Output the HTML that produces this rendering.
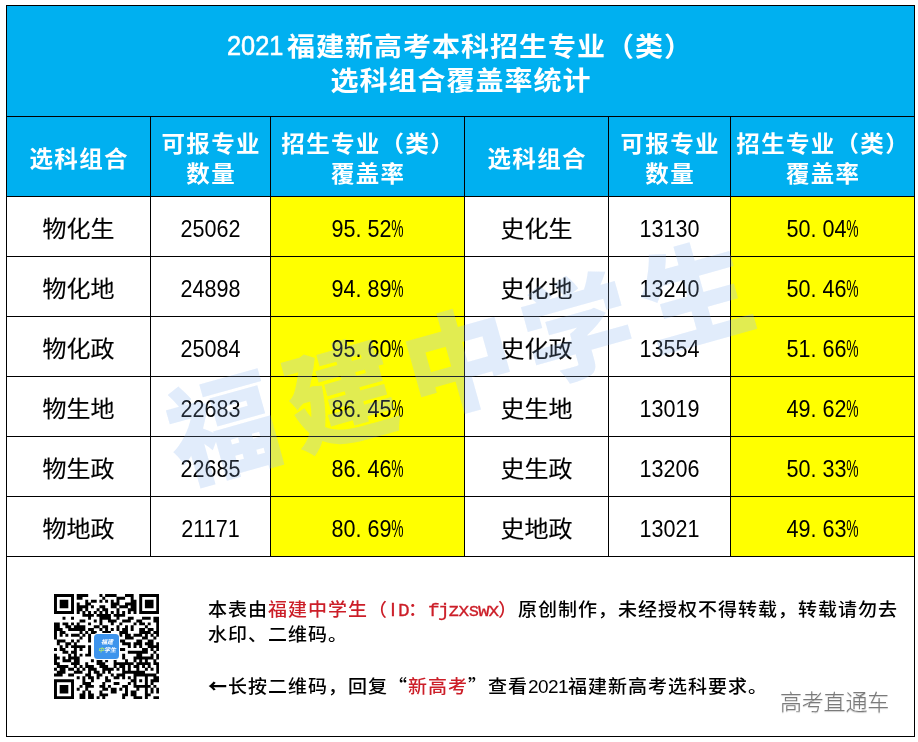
<!DOCTYPE html>
<html lang="zh-CN">
<head>
<meta charset="utf-8">
<title>2021福建新高考本科招生专业（类）选科组合覆盖率统计</title>
<style>
html,body{margin:0;padding:0;background:#fff;}
body{width:918px;height:742px;position:relative;overflow:hidden;
 font-family:"Liberation Sans","Noto Sans CJK SC",sans-serif;color:#000;}
.abs{position:absolute;}
.bg{position:absolute;}
.ln{position:absolute;background:#000;}
.t{position:absolute;white-space:nowrap;text-align:center;}
.h{color:#fff;font-weight:700;}
.title{font-size:28px;line-height:36px;height:36px;letter-spacing:1px;text-indent:1px;transform:scaleY(.95);}
.title .d{display:inline-block;width:60px;margin-left:-2px;text-align:left;letter-spacing:0;text-indent:0;}
.title .d>span{display:inline-block;font-size:29.5px;font-weight:400;-webkit-text-stroke:.6px #fff;transform:scaleX(.86);transform-origin:0 50%;}
.hd{font-size:23.5px;line-height:30px;height:30px;letter-spacing:1.3px;text-indent:1.3px;transform:scaleY(.95);}
.c{font-size:24px;line-height:30px;height:30px;font-weight:400;-webkit-text-stroke:.15px #000;transform:scaleY(.93);}
.n{font-size:23.2px;line-height:30px;height:30px;transform:scaleX(.93);transform-origin:50% 50%;}
.pc{display:inline-block;width:12.9px;text-align:left;}
.pc>span{display:inline-block;transform:scaleX(.64);transform-origin:0 50%;}
.dot{display:inline-block;width:12.9px;text-align:left;}
.lg{width:80px;height:14px;line-height:14px;font-size:12px;font-weight:700;font-style:italic;color:#fff;transform:scale(.5);transform-origin:50% 50%;}
.cj{font-family:"Noto Sans CJK SC",sans-serif;}
.f{font-size:19px;line-height:26px;height:26px;text-align:left;letter-spacing:1px;transform:scaleY(.95);transform-origin:0 50%;font-weight:500;}
.red{color:#cc1e28;}
.lat{letter-spacing:-0.57px;}
.lat2{font-family:"Liberation Mono",monospace;font-size:19.5px;letter-spacing:-1.7px;-webkit-text-stroke:.3px #cc1e28;}
.li{display:inline-block;width:10px;text-align:center;letter-spacing:0;font-size:19.5px;-webkit-text-stroke:.3px #cc1e28;}
.arr{font-family:"Noto Sans CJK SC",sans-serif;font-weight:900;}
.wm{position:absolute;white-space:nowrap;font-weight:900;color:rgba(176,210,243,.17);
 font-size:110px;line-height:120px;height:120px;width:700px;text-align:center;transform-origin:50% 50%;letter-spacing:12.8px;text-indent:12.8px;}
.wm.top{color:rgba(160,196,243,.20);}
.wm2{position:absolute;white-space:nowrap;font-weight:300;color:#7a7a7a;font-size:22px;line-height:26px;letter-spacing:-.2px;
 text-shadow:0 1px 1px rgba(0,0,0,.22);}
</style>
</head>
<body>

<div class="bg" style="left:6px;top:5px;width:909px;height:191px;background:#00b0f0"></div>
<div class="bg" style="left:270px;top:196px;width:194px;height:60px;background:#ffff00"></div>
<div class="bg" style="left:730px;top:196px;width:184px;height:60px;background:#ffff00"></div>
<div class="bg" style="left:270px;top:256px;width:194px;height:60px;background:#ffff00"></div>
<div class="bg" style="left:730px;top:256px;width:184px;height:60px;background:#ffff00"></div>
<div class="bg" style="left:270px;top:316px;width:194px;height:60px;background:#ffff00"></div>
<div class="bg" style="left:730px;top:316px;width:184px;height:60px;background:#ffff00"></div>
<div class="bg" style="left:270px;top:376px;width:194px;height:60px;background:#ffff00"></div>
<div class="bg" style="left:730px;top:376px;width:184px;height:60px;background:#ffff00"></div>
<div class="bg" style="left:270px;top:436px;width:194px;height:60px;background:#ffff00"></div>
<div class="bg" style="left:730px;top:436px;width:184px;height:60px;background:#ffff00"></div>
<div class="bg" style="left:270px;top:496px;width:194px;height:60px;background:#ffff00"></div>
<div class="bg" style="left:730px;top:496px;width:184px;height:60px;background:#ffff00"></div>
<div class="wm" style="left:109.5px;top:305px;transform:rotate(-15.7deg);">福建中学生</div>
<div class="ln" style="left:6px;top:5px;width:909px;height:1px"></div>
<div class="ln" style="left:6px;top:116px;width:909px;height:1px"></div>
<div class="ln" style="left:6px;top:196px;width:909px;height:1px"></div>
<div class="ln" style="left:6px;top:256px;width:909px;height:1px"></div>
<div class="ln" style="left:6px;top:316px;width:909px;height:1px"></div>
<div class="ln" style="left:6px;top:376px;width:909px;height:1px"></div>
<div class="ln" style="left:6px;top:436px;width:909px;height:1px"></div>
<div class="ln" style="left:6px;top:496px;width:909px;height:1px"></div>
<div class="ln" style="left:6px;top:556px;width:909px;height:1px"></div>
<div class="ln" style="left:6px;top:736px;width:909px;height:1px"></div>
<div class="ln" style="left:6px;top:5px;width:1px;height:732px"></div>
<div class="ln" style="left:150px;top:116px;width:1px;height:441px"></div>
<div class="ln" style="left:270px;top:116px;width:1px;height:441px"></div>
<div class="ln" style="left:464px;top:116px;width:1px;height:441px"></div>
<div class="ln" style="left:608px;top:116px;width:1px;height:441px"></div>
<div class="ln" style="left:730px;top:116px;width:1px;height:441px"></div>
<div class="ln" style="left:914px;top:5px;width:1px;height:732px"></div>
<div class="t h title" style="left:6px;width:909px;top:27.5px;"><span class="d"><span>2021</span></span>福建新高考本科招生专业（类）</div>
<div class="t h title" style="left:6px;width:909px;top:63.0px;">选科组合覆盖率统计</div>
<div class="t h hd" style="left:6px;width:145px;top:143.7px;">选科组合</div>
<div class="t h hd" style="left:150px;width:121px;top:129.0px;">可报专业</div>
<div class="t h hd" style="left:150px;width:121px;top:159.0px;">数量</div>
<div class="t h hd" style="left:270px;width:195px;top:129.0px;">招生专业（类）</div>
<div class="t h hd" style="left:270px;width:195px;top:159.0px;">覆盖率</div>
<div class="t h hd" style="left:464px;width:145px;top:143.7px;">选科组合</div>
<div class="t h hd" style="left:608px;width:123px;top:129.0px;">可报专业</div>
<div class="t h hd" style="left:608px;width:123px;top:159.0px;">数量</div>
<div class="t h hd" style="left:730px;width:185px;top:129.0px;">招生专业（类）</div>
<div class="t h hd" style="left:730px;width:185px;top:159.0px;">覆盖率</div>
<div class="t c" style="left:6px;width:145px;top:215.0px;">物化生</div>
<div class="t n" style="left:150px;width:121px;top:213.5px;">25062</div>
<div class="t n" style="left:270px;width:195px;top:213.5px;">95<span class="dot">.</span>52<span class="pc"><span>%</span></span></div>
<div class="t c" style="left:464px;width:145px;top:215.0px;">史化生</div>
<div class="t n" style="left:608px;width:123px;top:213.5px;">13130</div>
<div class="t n" style="left:730px;width:185px;top:213.5px;">50<span class="dot">.</span>04<span class="pc"><span>%</span></span></div>
<div class="t c" style="left:6px;width:145px;top:275.0px;">物化地</div>
<div class="t n" style="left:150px;width:121px;top:273.5px;">24898</div>
<div class="t n" style="left:270px;width:195px;top:273.5px;">94<span class="dot">.</span>89<span class="pc"><span>%</span></span></div>
<div class="t c" style="left:464px;width:145px;top:275.0px;">史化地</div>
<div class="t n" style="left:608px;width:123px;top:273.5px;">13240</div>
<div class="t n" style="left:730px;width:185px;top:273.5px;">50<span class="dot">.</span>46<span class="pc"><span>%</span></span></div>
<div class="t c" style="left:6px;width:145px;top:335.0px;">物化政</div>
<div class="t n" style="left:150px;width:121px;top:333.5px;">25084</div>
<div class="t n" style="left:270px;width:195px;top:333.5px;">95<span class="dot">.</span>60<span class="pc"><span>%</span></span></div>
<div class="t c" style="left:464px;width:145px;top:335.0px;">史化政</div>
<div class="t n" style="left:608px;width:123px;top:333.5px;">13554</div>
<div class="t n" style="left:730px;width:185px;top:333.5px;">51<span class="dot">.</span>66<span class="pc"><span>%</span></span></div>
<div class="t c" style="left:6px;width:145px;top:395.0px;">物生地</div>
<div class="t n" style="left:150px;width:121px;top:393.5px;">22683</div>
<div class="t n" style="left:270px;width:195px;top:393.5px;">86<span class="dot">.</span>45<span class="pc"><span>%</span></span></div>
<div class="t c" style="left:464px;width:145px;top:395.0px;">史生地</div>
<div class="t n" style="left:608px;width:123px;top:393.5px;">13019</div>
<div class="t n" style="left:730px;width:185px;top:393.5px;">49<span class="dot">.</span>62<span class="pc"><span>%</span></span></div>
<div class="t c" style="left:6px;width:145px;top:455.0px;">物生政</div>
<div class="t n" style="left:150px;width:121px;top:453.5px;">22685</div>
<div class="t n" style="left:270px;width:195px;top:453.5px;">86<span class="dot">.</span>46<span class="pc"><span>%</span></span></div>
<div class="t c" style="left:464px;width:145px;top:455.0px;">史生政</div>
<div class="t n" style="left:608px;width:123px;top:453.5px;">13206</div>
<div class="t n" style="left:730px;width:185px;top:453.5px;">50<span class="dot">.</span>33<span class="pc"><span>%</span></span></div>
<div class="t c" style="left:6px;width:145px;top:515.0px;">物地政</div>
<div class="t n" style="left:150px;width:121px;top:513.5px;">21171</div>
<div class="t n" style="left:270px;width:195px;top:513.5px;">80<span class="dot">.</span>69<span class="pc"><span>%</span></span></div>
<div class="t c" style="left:464px;width:145px;top:515.0px;">史地政</div>
<div class="t n" style="left:608px;width:123px;top:513.5px;">13021</div>
<div class="t n" style="left:730px;width:185px;top:513.5px;">49<span class="dot">.</span>63<span class="pc"><span>%</span></span></div>
<div class="t f" style="left:208px;top:595.5px;">本表由<span class="red">福建中学生（<span class="li">I</span><span class="lat2">D</span>：<span class="lat2">fjzxswx</span>）</span>原创制作，未经授权不得转载，转载请勿去</div>
<div class="t f" style="left:208px;top:621.5px;">水印、二维码。</div>
<div class="t f" style="left:208px;top:672.0px;"><span class="arr">←</span>长按二维码，回复<span class="cj">“</span><span class="red">新高考</span><span class="cj">”</span>查看<span class="lat">2021</span>福建新高考选科要求。</div>
<svg class="abs" style="left:53.9px;top:593.9px" width="105.1" height="105.1" viewBox="0 0 37 37"><path d="M0 0h7.04v1.04h-7.04zM8 0h4.04v1.04h-4.04zM16 0h1.04v1.04h-1.04zM18 0h4.04v1.04h-4.04zM25 0h3.04v1.04h-3.04zM30 0h7.04v1.04h-7.04zM0 1h1.04v1.04h-1.04zM6 1h1.04v1.04h-1.04zM8 1h2.04v1.04h-2.04zM17 1h1.04v1.04h-1.04zM22 1h3.04v1.04h-3.04zM27 1h1.04v1.04h-1.04zM30 1h1.04v1.04h-1.04zM36 1h1.04v1.04h-1.04zM0 2h1.04v1.04h-1.04zM2 2h3.04v1.04h-3.04zM6 2h1.04v1.04h-1.04zM11 2h1.04v1.04h-1.04zM13 2h2.04v1.04h-2.04zM16 2h1.04v1.04h-1.04zM18 2h1.04v1.04h-1.04zM20 2h1.04v1.04h-1.04zM22 2h1.04v1.04h-1.04zM27 2h2.04v1.04h-2.04zM30 2h1.04v1.04h-1.04zM32 2h3.04v1.04h-3.04zM36 2h1.04v1.04h-1.04zM0 3h1.04v1.04h-1.04zM2 3h3.04v1.04h-3.04zM6 3h1.04v1.04h-1.04zM8 3h1.04v1.04h-1.04zM11 3h2.04v1.04h-2.04zM20 3h3.04v1.04h-3.04zM25 3h4.04v1.04h-4.04zM30 3h1.04v1.04h-1.04zM32 3h3.04v1.04h-3.04zM36 3h1.04v1.04h-1.04zM0 4h1.04v1.04h-1.04zM2 4h3.04v1.04h-3.04zM6 4h1.04v1.04h-1.04zM8 4h4.04v1.04h-4.04zM13 4h1.04v1.04h-1.04zM16 4h2.04v1.04h-2.04zM20 4h2.04v1.04h-2.04zM23 4h3.04v1.04h-3.04zM27 4h2.04v1.04h-2.04zM30 4h1.04v1.04h-1.04zM32 4h3.04v1.04h-3.04zM36 4h1.04v1.04h-1.04zM0 5h1.04v1.04h-1.04zM6 5h1.04v1.04h-1.04zM8 5h2.04v1.04h-2.04zM11 5h1.04v1.04h-1.04zM15 5h1.04v1.04h-1.04zM17 5h2.04v1.04h-2.04zM22 5h1.04v1.04h-1.04zM26 5h3.04v1.04h-3.04zM30 5h1.04v1.04h-1.04zM36 5h1.04v1.04h-1.04zM0 6h7.04v1.04h-7.04zM8 6h1.04v1.04h-1.04zM10 6h1.04v1.04h-1.04zM12 6h1.04v1.04h-1.04zM14 6h1.04v1.04h-1.04zM16 6h1.04v1.04h-1.04zM18 6h1.04v1.04h-1.04zM20 6h1.04v1.04h-1.04zM22 6h1.04v1.04h-1.04zM24 6h1.04v1.04h-1.04zM26 6h1.04v1.04h-1.04zM28 6h1.04v1.04h-1.04zM30 6h7.04v1.04h-7.04zM10 7h4.04v1.04h-4.04zM15 7h5.04v1.04h-5.04zM21 7h4.04v1.04h-4.04zM3 8h1.04v1.04h-1.04zM6 8h1.04v1.04h-1.04zM12 8h1.04v1.04h-1.04zM16 8h4.04v1.04h-4.04zM22 8h1.04v1.04h-1.04zM26 8h2.04v1.04h-2.04zM31 8h3.04v1.04h-3.04zM35 8h2.04v1.04h-2.04zM9 9h2.04v1.04h-2.04zM14 9h1.04v1.04h-1.04zM16 9h1.04v1.04h-1.04zM19 9h3.04v1.04h-3.04zM24 9h3.04v1.04h-3.04zM29 9h2.04v1.04h-2.04zM35 9h2.04v1.04h-2.04zM0 10h2.04v1.04h-2.04zM3 10h2.04v1.04h-2.04zM6 10h1.04v1.04h-1.04zM8 10h1.04v1.04h-1.04zM12 10h1.04v1.04h-1.04zM16 10h1.04v1.04h-1.04zM20 10h1.04v1.04h-1.04zM23 10h1.04v1.04h-1.04zM28 10h1.04v1.04h-1.04zM30 10h2.04v1.04h-2.04zM33 10h1.04v1.04h-1.04zM36 10h1.04v1.04h-1.04zM0 11h2.04v1.04h-2.04zM4 11h2.04v1.04h-2.04zM7 11h4.04v1.04h-4.04zM14 11h2.04v1.04h-2.04zM17 11h2.04v1.04h-2.04zM22 11h1.04v1.04h-1.04zM25 11h1.04v1.04h-1.04zM27 11h1.04v1.04h-1.04zM32 11h1.04v1.04h-1.04zM36 11h1.04v1.04h-1.04zM0 12h3.04v1.04h-3.04zM5 12h6.04v1.04h-6.04zM12 12h2.04v1.04h-2.04zM16 12h1.04v1.04h-1.04zM18 12h1.04v1.04h-1.04zM20 12h1.04v1.04h-1.04zM22 12h1.04v1.04h-1.04zM24 12h2.04v1.04h-2.04zM27 12h1.04v1.04h-1.04zM30 12h2.04v1.04h-2.04zM33 12h2.04v1.04h-2.04zM36 12h1.04v1.04h-1.04zM0 13h1.04v1.04h-1.04zM2 13h2.04v1.04h-2.04zM9 13h1.04v1.04h-1.04zM11 13h1.04v1.04h-1.04zM13 13h2.04v1.04h-2.04zM17 13h3.04v1.04h-3.04zM23 13h3.04v1.04h-3.04zM30 13h4.04v1.04h-4.04zM35 13h2.04v1.04h-2.04zM0 14h1.04v1.04h-1.04zM2 14h1.04v1.04h-1.04zM4 14h1.04v1.04h-1.04zM6 14h3.04v1.04h-3.04zM10 14h1.04v1.04h-1.04zM12 14h1.04v1.04h-1.04zM23 14h1.04v1.04h-1.04zM25 14h2.04v1.04h-2.04zM28 14h3.04v1.04h-3.04zM32 14h1.04v1.04h-1.04zM34 14h1.04v1.04h-1.04zM36 14h1.04v1.04h-1.04zM0 15h1.04v1.04h-1.04zM9 15h1.04v1.04h-1.04zM12 15h1.04v1.04h-1.04zM25 15h3.04v1.04h-3.04zM31 15h2.04v1.04h-2.04zM35 15h1.04v1.04h-1.04zM1 16h3.04v1.04h-3.04zM6 16h1.04v1.04h-1.04zM8 16h1.04v1.04h-1.04zM12 16h1.04v1.04h-1.04zM23 16h2.04v1.04h-2.04zM29 16h2.04v1.04h-2.04zM33 16h2.04v1.04h-2.04zM1 17h1.04v1.04h-1.04zM4 17h2.04v1.04h-2.04zM7 17h1.04v1.04h-1.04zM24 17h3.04v1.04h-3.04zM28 17h3.04v1.04h-3.04zM32 17h3.04v1.04h-3.04zM36 17h1.04v1.04h-1.04zM2 18h1.04v1.04h-1.04zM4 18h1.04v1.04h-1.04zM6 18h5.04v1.04h-5.04zM12 18h1.04v1.04h-1.04zM26 18h1.04v1.04h-1.04zM28 18h1.04v1.04h-1.04zM30 18h1.04v1.04h-1.04zM33 18h4.04v1.04h-4.04zM0 19h1.04v1.04h-1.04zM2 19h2.04v1.04h-2.04zM7 19h1.04v1.04h-1.04zM9 19h1.04v1.04h-1.04zM12 19h1.04v1.04h-1.04zM23 19h2.04v1.04h-2.04zM31 19h2.04v1.04h-2.04zM34 19h1.04v1.04h-1.04zM36 19h1.04v1.04h-1.04zM3 20h2.04v1.04h-2.04zM6 20h2.04v1.04h-2.04zM12 20h1.04v1.04h-1.04zM26 20h7.04v1.04h-7.04zM35 20h1.04v1.04h-1.04zM0 21h1.04v1.04h-1.04zM5 21h1.04v1.04h-1.04zM7 21h1.04v1.04h-1.04zM9 21h1.04v1.04h-1.04zM11 21h2.04v1.04h-2.04zM24 21h1.04v1.04h-1.04zM29 21h2.04v1.04h-2.04zM34 21h1.04v1.04h-1.04zM36 21h1.04v1.04h-1.04zM0 22h2.04v1.04h-2.04zM3 22h1.04v1.04h-1.04zM5 22h4.04v1.04h-4.04zM24 22h1.04v1.04h-1.04zM28 22h7.04v1.04h-7.04zM36 22h1.04v1.04h-1.04zM0 23h1.04v1.04h-1.04zM3 23h3.04v1.04h-3.04zM7 23h2.04v1.04h-2.04zM13 23h1.04v1.04h-1.04zM15 23h2.04v1.04h-2.04zM18 23h1.04v1.04h-1.04zM21 23h1.04v1.04h-1.04zM25 23h1.04v1.04h-1.04zM28 23h1.04v1.04h-1.04zM30 23h1.04v1.04h-1.04zM32 23h1.04v1.04h-1.04zM35 23h1.04v1.04h-1.04zM0 24h2.04v1.04h-2.04zM6 24h3.04v1.04h-3.04zM11 24h1.04v1.04h-1.04zM15 24h3.04v1.04h-3.04zM21 24h7.04v1.04h-7.04zM29 24h5.04v1.04h-5.04zM35 24h2.04v1.04h-2.04zM1 25h4.04v1.04h-4.04zM7 25h1.04v1.04h-1.04zM9 25h1.04v1.04h-1.04zM11 25h3.04v1.04h-3.04zM16 25h3.04v1.04h-3.04zM21 25h1.04v1.04h-1.04zM23 25h2.04v1.04h-2.04zM26 25h1.04v1.04h-1.04zM28 25h2.04v1.04h-2.04zM31 25h1.04v1.04h-1.04zM33 25h1.04v1.04h-1.04zM36 25h1.04v1.04h-1.04zM0 26h1.04v1.04h-1.04zM2 26h2.04v1.04h-2.04zM5 26h2.04v1.04h-2.04zM8 26h1.04v1.04h-1.04zM10 26h1.04v1.04h-1.04zM12 26h3.04v1.04h-3.04zM17 26h4.04v1.04h-4.04zM22 26h1.04v1.04h-1.04zM24 26h1.04v1.04h-1.04zM26 26h1.04v1.04h-1.04zM29 26h1.04v1.04h-1.04zM32 26h1.04v1.04h-1.04zM34 26h1.04v1.04h-1.04zM36 26h1.04v1.04h-1.04zM1 27h3.04v1.04h-3.04zM7 27h3.04v1.04h-3.04zM12 27h1.04v1.04h-1.04zM14 27h2.04v1.04h-2.04zM17 27h1.04v1.04h-1.04zM19 27h1.04v1.04h-1.04zM24 27h8.04v1.04h-8.04zM36 27h1.04v1.04h-1.04zM0 28h3.04v1.04h-3.04zM5 28h2.04v1.04h-2.04zM11 28h2.04v1.04h-2.04zM15 28h2.04v1.04h-2.04zM20 28h1.04v1.04h-1.04zM22 28h3.04v1.04h-3.04zM28 28h8.04v1.04h-8.04zM8 29h1.04v1.04h-1.04zM10 29h1.04v1.04h-1.04zM12 29h2.04v1.04h-2.04zM15 29h1.04v1.04h-1.04zM18 29h1.04v1.04h-1.04zM21 29h2.04v1.04h-2.04zM24 29h1.04v1.04h-1.04zM26 29h1.04v1.04h-1.04zM28 29h1.04v1.04h-1.04zM32 29h1.04v1.04h-1.04zM35 29h2.04v1.04h-2.04zM0 30h7.04v1.04h-7.04zM10 30h1.04v1.04h-1.04zM13 30h1.04v1.04h-1.04zM18 30h2.04v1.04h-2.04zM27 30h2.04v1.04h-2.04zM30 30h1.04v1.04h-1.04zM32 30h1.04v1.04h-1.04zM34 30h3.04v1.04h-3.04zM0 31h1.04v1.04h-1.04zM6 31h1.04v1.04h-1.04zM10 31h3.04v1.04h-3.04zM17 31h1.04v1.04h-1.04zM21 31h2.04v1.04h-2.04zM26 31h1.04v1.04h-1.04zM28 31h1.04v1.04h-1.04zM32 31h1.04v1.04h-1.04zM34 31h1.04v1.04h-1.04zM0 32h1.04v1.04h-1.04zM2 32h3.04v1.04h-3.04zM6 32h1.04v1.04h-1.04zM9 32h1.04v1.04h-1.04zM11 32h3.04v1.04h-3.04zM16 32h2.04v1.04h-2.04zM19 32h1.04v1.04h-1.04zM24 32h2.04v1.04h-2.04zM28 32h6.04v1.04h-6.04zM35 32h1.04v1.04h-1.04zM0 33h1.04v1.04h-1.04zM2 33h3.04v1.04h-3.04zM6 33h1.04v1.04h-1.04zM8 33h1.04v1.04h-1.04zM11 33h1.04v1.04h-1.04zM17 33h2.04v1.04h-2.04zM20 33h2.04v1.04h-2.04zM23 33h1.04v1.04h-1.04zM25 33h1.04v1.04h-1.04zM29 33h1.04v1.04h-1.04zM32 33h1.04v1.04h-1.04zM34 33h1.04v1.04h-1.04zM36 33h1.04v1.04h-1.04zM0 34h1.04v1.04h-1.04zM2 34h3.04v1.04h-3.04zM6 34h1.04v1.04h-1.04zM10 34h1.04v1.04h-1.04zM12 34h1.04v1.04h-1.04zM16 34h1.04v1.04h-1.04zM20 34h2.04v1.04h-2.04zM25 34h1.04v1.04h-1.04zM27 34h2.04v1.04h-2.04zM32 34h1.04v1.04h-1.04zM34 34h1.04v1.04h-1.04zM36 34h1.04v1.04h-1.04zM0 35h1.04v1.04h-1.04zM6 35h1.04v1.04h-1.04zM9 35h2.04v1.04h-2.04zM12 35h2.04v1.04h-2.04zM16 35h3.04v1.04h-3.04zM24 35h2.04v1.04h-2.04zM27 35h2.04v1.04h-2.04zM32 35h2.04v1.04h-2.04zM0 36h7.04v1.04h-7.04zM9 36h2.04v1.04h-2.04zM12 36h2.04v1.04h-2.04zM15 36h1.04v1.04h-1.04zM17 36h1.04v1.04h-1.04zM24 36h1.04v1.04h-1.04zM28 36h3.04v1.04h-3.04zM32 36h1.04v1.04h-1.04zM35 36h2.04v1.04h-2.04z" fill="#000"/></svg>
<div class="abs" style="left:93px;top:632.8px;width:27.2px;height:27.3px;background:#fff;border-radius:4.5px"></div>
<div class="abs" style="left:94.1px;top:633.9px;width:25px;height:25.1px;background:#3e94ec;border-radius:3.5px"></div>
<div class="t lg" style="left:66.5px;top:635.2px;">福建</div>
<div class="t lg" style="left:66.5px;top:643.2px;"><span style="color:#a6e07a">中</span>学生</div>
<div class="wm2" style="left:780px;top:690px;">高考直通车</div>
<div class="wm top" style="left:109.5px;top:305px;transform:rotate(-15.7deg);">福建中学生</div>
</body>
</html>
